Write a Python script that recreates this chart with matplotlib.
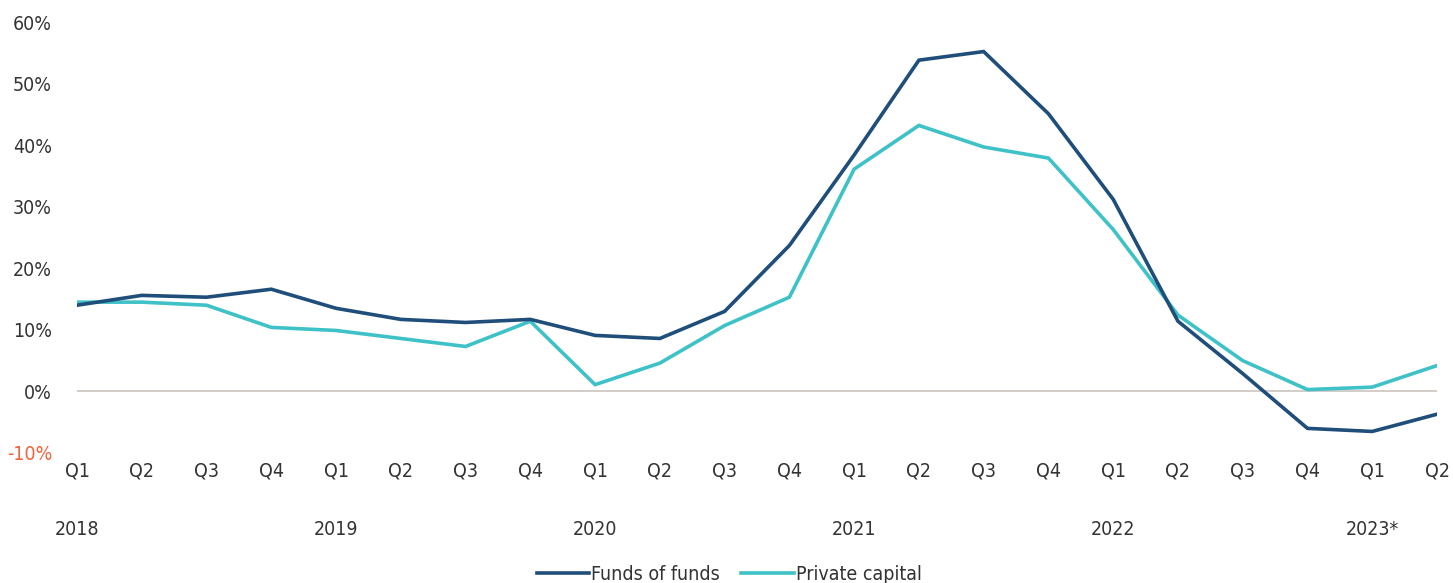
import matplotlib
matplotlib.use("Agg")
import matplotlib.pyplot as plt
from matplotlib.lines import Line2D

plt.rcParams["font.family"] = ["DejaVu Sans"]
plt.rcParams["font.stretch"] = "condensed"

# ============================================================
# DONNÉES
# ============================================================
quarters = ["Q1", "Q2", "Q3", "Q4"] * 5 + ["Q1", "Q2"]
years = ["2018", "2019", "2020", "2021", "2022", "2023*"]
year_pos = [0, 4, 8, 12, 16, 20]

funds_of_funds = [14.0, 15.6, 15.3, 16.6, 13.5, 11.7, 11.2, 11.7, 9.1, 8.6, 13.0,
                  23.7, 38.4, 53.8, 55.2, 45.1, 31.2, 11.4, 2.9, -6.0, -6.5, -3.7]
private_capital = [14.5, 14.5, 14.0, 10.4, 9.9, 8.6, 7.3, 11.4, 1.1, 4.6, 10.7,
                   15.3, 36.1, 43.2, 39.7, 37.9, 26.3, 12.4, 5.0, 0.3, 0.7, 4.2]

y_ticks = [-10, 0, 10, 20, 30, 40, 50, 60]

NAVY = "#1F4E7A"
TEAL = "#3FC1C8"
TXT = "#333333"

# ============================================================
# GRAPHIQUE
# ============================================================
fig = plt.figure(figsize=(14.53, 5.83), dpi=100)
ax = fig.add_axes([77 / 1453, 1 - 453 / 583, 1360 / 1453, 431 / 583])

x = list(range(len(quarters)))
ax.axhline(0, color="#C8C0BC", lw=1.1, zorder=1)
ax.plot(x, funds_of_funds, color=NAVY, lw=2.6, zorder=3, solid_joinstyle="miter")
ax.plot(x, private_capital, color=TEAL, lw=2.6, zorder=2, solid_joinstyle="miter")

ax.set_xlim(0, len(quarters) - 1)
ax.set_ylim(-10, 60)
for s in ax.spines.values():
    s.set_visible(False)

ax.set_yticks(y_ticks)
ax.set_yticklabels([f"{v}%" for v in y_ticks])
ax.tick_params(axis="y", length=0, pad=18, labelsize=14, labelcolor=TXT)
ax.get_yticklabels()[0].set_color("#F4623A")

ax.set_xticks(x)
ax.set_xticklabels(quarters)
ax.tick_params(axis="x", length=0, pad=6, labelsize=14, labelcolor=TXT)

for p, yr in zip(year_pos, years):
    ax.text(p, -22.5, yr, ha="center", va="center", fontsize=14, color=TXT,
            clip_on=False)

handles = [Line2D([], [], color=NAVY, lw=2.6), Line2D([], [], color=TEAL, lw=2.6)]
fig.legend(handles, ["Funds of funds", "Private capital"], loc="center",
           bbox_to_anchor=(729 / 1453, 1 - 574 / 583), ncol=2, frameon=False,
           fontsize=14, handlelength=2.7, handletextpad=0.1, columnspacing=1.1,
           labelcolor=TXT)

fig.savefig("out.png", dpi=100)
